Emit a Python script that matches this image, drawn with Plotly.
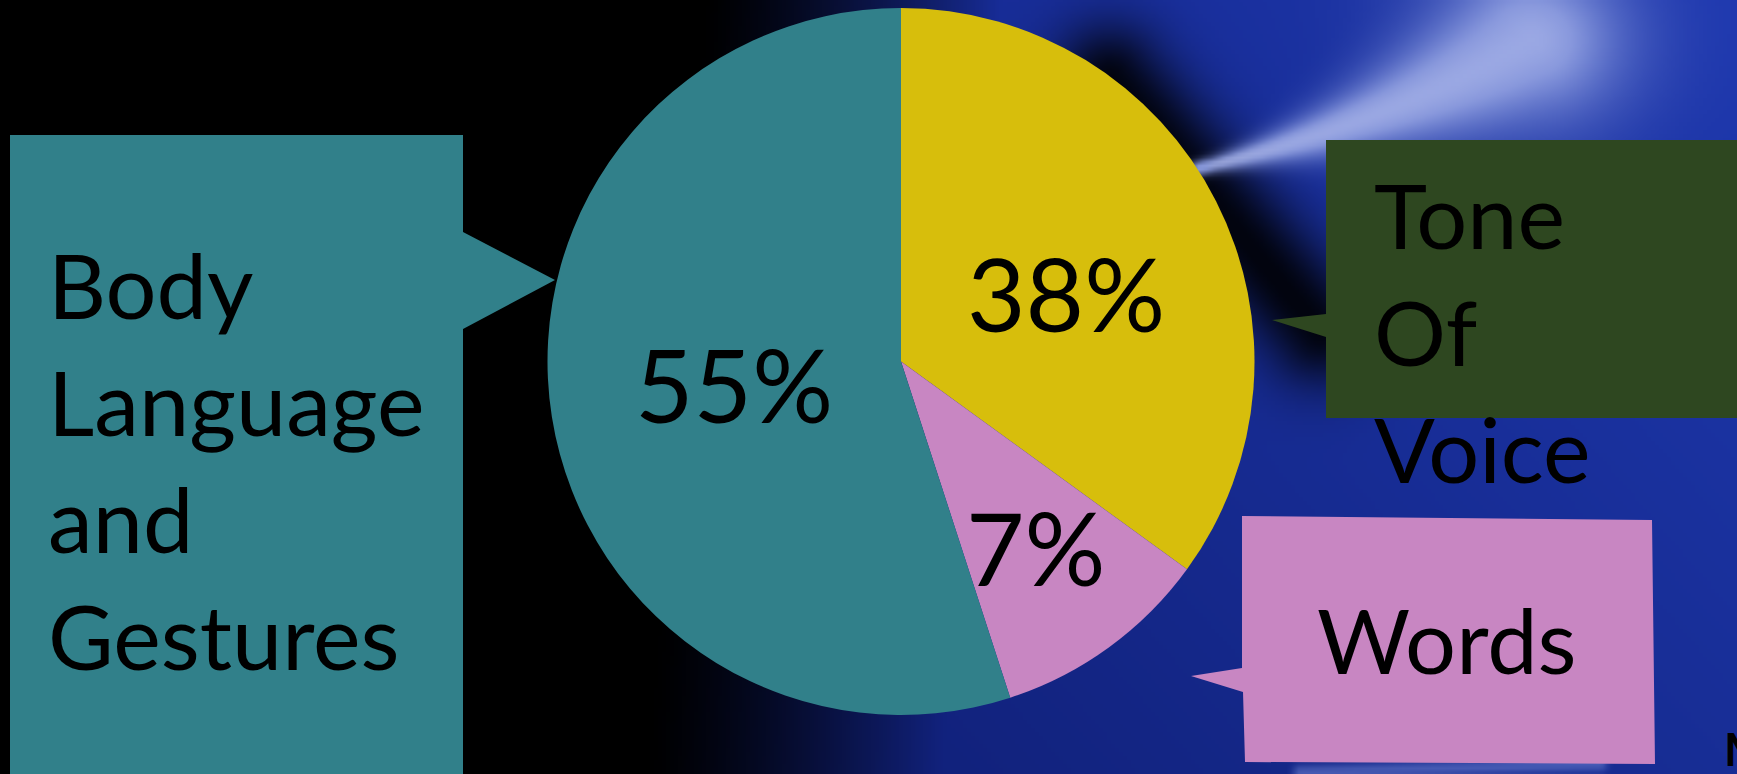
import base64
import struct
import zlib

import numpy as np
import plotly.graph_objects as go

# ---------------- data ----------------
categories = ["Tone Of Voice", "Words", "Body Language and Gestures"]
slice_shares = [35, 10, 55]          # drawn slice sizes
slice_labels = ["38%", "7%", "55%"]  # percentage texts printed on the slices
slice_colors = ["#D7BE0C", "#C886C2", "#31808A"]
callout_texts = ["Tone<br>Of<br>Voice", "Words", "Body<br>Language<br>and<br>Gestures"]
callout_colors = ["#2E4720", "#C886C2", "#31808A"]

W, H = 1737, 774
FONT = "Lato"


# ---------------- background picture (dark -> blue swirl) ----------------
def make_background(w=434, h=194):
    xs = (np.arange(w) + 0.5) * W / w
    ys = (np.arange(h) + 0.5) * H / h
    X, Y = np.meshgrid(xs, ys)
    f = 700 - 60 * (Y / H)
    b = np.clip((X - f) / 300.0, 0, 1) ** 1.3
    base = np.stack([
        16 + 14 * (X / W) - 6 * (Y / H),
        30 + 26 * (X / W) - 10 * (Y / H),
        120 + 55 * (X / W) - 25 * (Y / H),
    ], axis=-1)
    img = base * b[..., None]

    def seg_dist(px, py, ax, ay, bx, by):
        vx, vy = bx - ax, by - ay
        t = np.clip(((px - ax) * vx + (py - ay) * vy) / (vx * vx + vy * vy), 0, 1)
        return np.hypot(px - (ax + t * vx), py - (ay + t * vy))

    # dark diagonal band right of the pie
    d = seg_dist(X, Y, 1110, 80, 1320, 330)
    dark = np.exp(-(d / 55.0) ** 2)
    img *= (1 - 0.9 * dark)[..., None]

    # light swirl near the top right (dense curve of soft blobs)
    light = np.zeros_like(X)
    core = np.zeros_like(X)
    for t in np.linspace(0, 1, 100):
        px = (1 - t) ** 2 * 1200 + 2 * (1 - t) * t * 1400 + t * t * 1530
        py = (1 - t) ** 2 * 168 + 2 * (1 - t) * t * 120 + t * t * 40
        r = 6 + 70 * t ** 1.3
        g = np.exp(-(((X - px) ** 2 + ((Y - py) * 1.15) ** 2) / (2 * r * r)))
        light = np.maximum(light, g)
        rc = 3 + 38 * t ** 1.3
        core = np.maximum(core, np.exp(-(((X - px) ** 2 + ((Y - py) * 1.15) ** 2) / (2 * rc * rc))))
    light = np.clip(light * 1.15, 0, 1) * 0.8
    img = img * (1 - light[..., None]) + np.array([130, 148, 222]) * light[..., None]
    core = core * 0.5
    img = img * (1 - core[..., None]) + np.array([200, 208, 245]) * core[..., None]
    # thin tail towards the left
    d3 = seg_dist(X, Y, 1090, 200, 1205, 166)
    l3 = np.exp(-(d3 / 6.0) ** 2) * 0.6
    img = img * (1 - l3[..., None]) + np.array([130, 150, 225]) * l3[..., None]

    # faint light streak at the bottom right
    d2 = seg_dist(X, Y, 1300, 772, 1600, 764)
    l2 = np.exp(-(d2 / 7.0) ** 2) * 0.5
    img = img * (1 - l2[..., None]) + np.array([120, 140, 220]) * l2[..., None]

    arr = np.clip(img, 0, 255).astype(np.uint8)
    raw = b"".join(b"\x00" + row.tobytes() for row in arr)

    def chunk(tag, data):
        c = struct.pack(">I", len(data)) + tag + data
        return c + struct.pack(">I", zlib.crc32(tag + data) & 0xFFFFFFFF)

    png = b"\x89PNG\r\n\x1a\n"
    png += chunk(b"IHDR", struct.pack(">IIBBBBB", w, h, 8, 2, 0, 0, 0))
    png += chunk(b"IDAT", zlib.compress(raw, 9))
    png += chunk(b"IEND", b"")
    return "data:image/png;base64," + base64.b64encode(png).decode()


fig = go.Figure()

# invisible full-page axes for the callouts
fig.add_trace(go.Scatter(x=[0, W], y=[0, H], mode="markers",
                         marker=dict(opacity=0), hoverinfo="skip", showlegend=False))

fig.add_trace(go.Pie(
    values=slice_shares,
    labels=categories,
    marker=dict(colors=slice_colors, line=dict(width=0)),
    sort=False,
    direction="clockwise",
    rotation=0,
    textinfo="none",
    hoverinfo="skip",
    showlegend=False,
    domain=dict(x=[544 / W, 1258 / W], y=[1 - 715 / H, 1 - 8 / H]),
))

# callout boxes (box + pointer)
tone_path = "M1326,140 L1737,140 L1737,418 L1326,418 L1326,337 L1272,320 L1326,314 Z"
words_path = "M1242,516 L1652,520 L1655,764 L1245,762 L1243,692 L1191,676 L1242,668 Z"
body_path = "M10,135 L463,135 L463,232 L555,280 L463,329 L463,774 L10,774 Z"
shapes = []
for p, c in zip([tone_path, words_path, body_path], callout_colors):
    shapes.append(dict(type="path", path=p, xref="x", yref="y",
                       fillcolor=c, line=dict(width=0), layer="above"))

annotations = []
fs = 90
annotations.append(dict(x=1372, y=331, text=callout_texts[0], xanchor="left", yanchor="middle",
                        align="left", showarrow=False, font=dict(family=FONT, size=fs, color="black")))
annotations.append(dict(x=1447, y=639, text=callout_texts[1], xanchor="center", yanchor="middle",
                        align="center", showarrow=False, font=dict(family=FONT, size=fs, color="black")))
annotations.append(dict(x=46, y=459, text=callout_texts[2], xanchor="left", yanchor="middle",
                        align="left", showarrow=False, font=dict(family=FONT, size=fs, color="black")))

# slice percentage labels
pfs = 101
for txt, (px, py) in zip(slice_labels, [(1066, 293), (1036, 547), (734, 384)]):
    annotations.append(dict(x=px, y=py, text=txt, xanchor="center", yanchor="middle",
                            showarrow=False, font=dict(family=FONT, size=pfs, color="black")))

# partial letter at the bottom-right corner
annotations.append(dict(x=1722, y=748, text="<b>M</b>", xanchor="left", yanchor="middle",
                        showarrow=False, font=dict(family=FONT, size=46, color="black")))

fig.update_layout(
    width=W, height=H,
    margin=dict(l=0, r=0, t=0, b=0),
    paper_bgcolor="#020204",
    plot_bgcolor="rgba(0,0,0,0)",
    xaxis=dict(range=[0, W], visible=False, fixedrange=True),
    yaxis=dict(range=[H, 0], visible=False, fixedrange=True),
    shapes=shapes,
    annotations=annotations,
    images=[dict(source=make_background(), xref="paper", yref="paper", x=0, y=1,
                 sizex=1, sizey=1, sizing="stretch", xanchor="left", yanchor="top",
                 layer="below")],
)

fig.write_html("out.html", config=dict(displayModeBar=False),
               post_script="document.body.style.margin='0px';document.body.style.overflow='hidden';")
